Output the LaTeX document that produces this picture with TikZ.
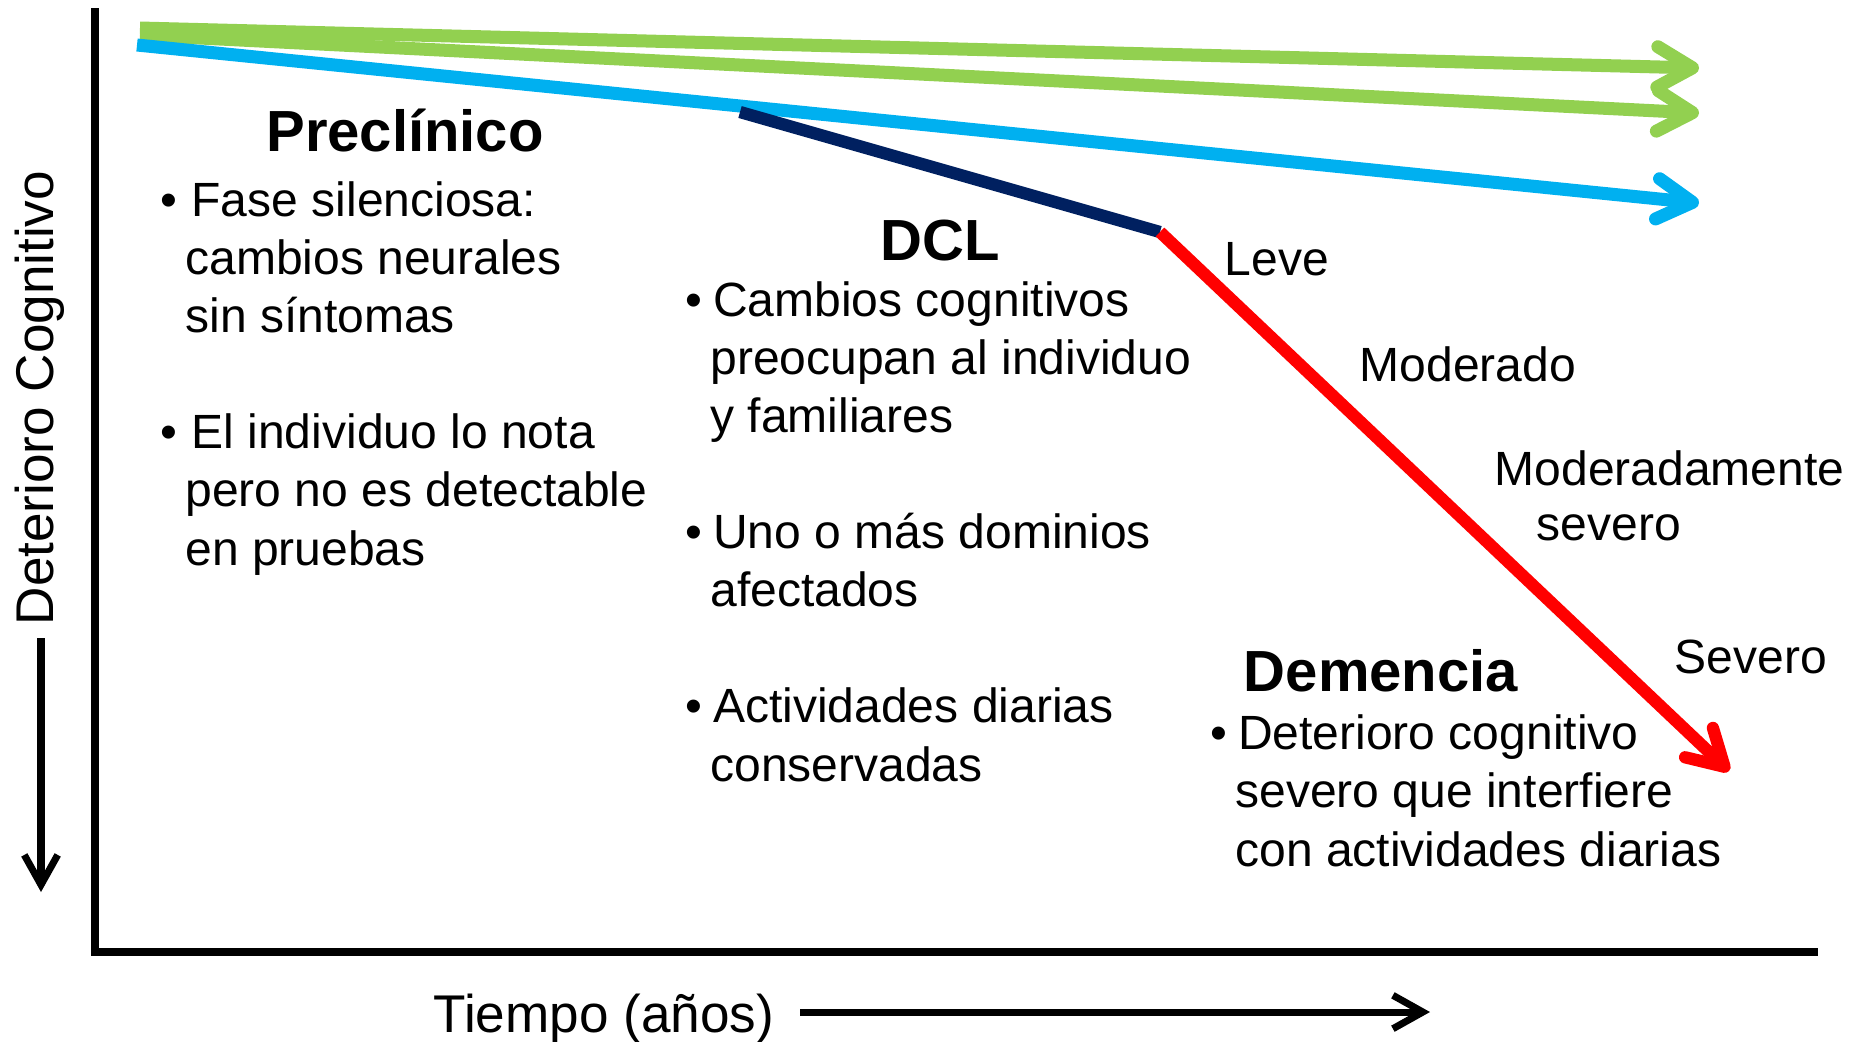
\documentclass[tikz,border=0pt]{standalone}
\usepackage{fontspec}
\setmainfont{Liberation Sans}
\usetikzlibrary{arrows.meta}
\definecolor{verde}{HTML}{92D050}
\definecolor{celeste}{HTML}{00B0F0}
\definecolor{marino}{HTML}{002060}
\definecolor{rojo}{HTML}{FF0000}
\newcommand{\bul}[1][3pt]{\textbullet\hspace{#1}}
\newcommand{\ind}{\hspace*{7pt}}

\begin{document}
\begin{tikzpicture}[x=0.01cm, y=-0.01cm,
  txt/.style = {anchor=base west, inner sep=0pt, align=left, font={\fontsize{13.66}{16.5}\selectfont}},
  head/.style = {anchor=base, inner sep=0pt, font={\fontsize{16.5}{19}\selectfont\bfseries}},
  axlab/.style = {anchor=base west, inner sep=0pt, font={\fontsize{15.1}{18}\selectfont}},
  trend/.style = {line width=3.7pt, -{Straight Barb[length=10pt,width=11.5pt,round]}},
  axarrow/.style = {line width=2pt, -{Straight Barb[length=8.5pt,width=9.5pt]}}]
\useasboundingbox (0,0) rectangle (1857,1041);

\coordinate (top) at (95,8);
\coordinate (orig) at (95,952);
\coordinate (right) at (1818,952);
\draw[line width=2.3pt] (top) -- (orig) -- (right);

\coordinate (g1s) at (140,28);
\coordinate (g1e) at (1699,68);
\coordinate (g2s) at (140,35);
\coordinate (g2e) at (1699,113);
\coordinate (bs) at (137,45);
\coordinate (be) at (1699,203);
\coordinate (ns) at (740,112);
\coordinate (knee) at (1160,232);
\coordinate (re) at (1729,771);
\draw[trend, verde] (g1s) -- (g1e);
\draw[trend, verde] (g2s) -- (g2e);
\draw[trend, celeste] (bs) -- (be);
\draw[line width=3.5pt, marino] (ns) -- (knee);
\draw[line width=3.5pt, rojo, -{Straight Barb[length=10pt,width=11.5pt,round]}] (knee) -- (re);

% the base anchor of a multi-line node is on its last line
\node[head] (precl) at (405,151) {Preclínico};
\node[txt] (precltxt) at (160,565) {\bul[4pt]Fase silenciosa:\\ \ind cambios neurales\\ \ind sin síntomas\\[16.5pt]
  \bul[4pt]El individuo lo nota\\ \ind pero no es detectable\\ \ind en pruebas};

\node[head] (dcl) at (940,260) {DCL};
\node[txt] (dcltxt) at (685,781) {\bul Cambios cognitivos\\ \ind preocupan al individuo\\ \ind y familiares\\[16.5pt]
  \bul Uno o más dominios\\ \ind afectados\\[16.5pt]
  \bul Actividades diarias\\ \ind conservadas};

\node[head] (dem) at (1381,691) {Demencia};
\node[txt] (demtxt) at (1210,866) {\bul Deterioro cognitivo\\ \ind severo que interfiere\\ \ind con actividades diarias};

\node[txt] (leve) at (1224,275) {Leve};
\node[txt] (mod) at (1359,381) {Moderado};
\node[txt] (modsev) at (1494,540) {Moderadamente\\[-1pt] \hspace*{12pt}severo};
\node[txt] (sev) at (1674,673) {Severo};

\node[axlab, rotate=90] (ylab) at (54,626) {Deterioro Cognitivo};
\coordinate (ya) at (41,638);
\coordinate (yb) at (41,892);
\draw[axarrow] (ya) -- (yb);

\node[axlab] (xlab) at (433,1032) {Tiempo (años)};
\coordinate (xa) at (800,1012);
\coordinate (xb) at (1430,1012);
\draw[axarrow] (xa) -- (xb);
\end{tikzpicture}
\end{document}
